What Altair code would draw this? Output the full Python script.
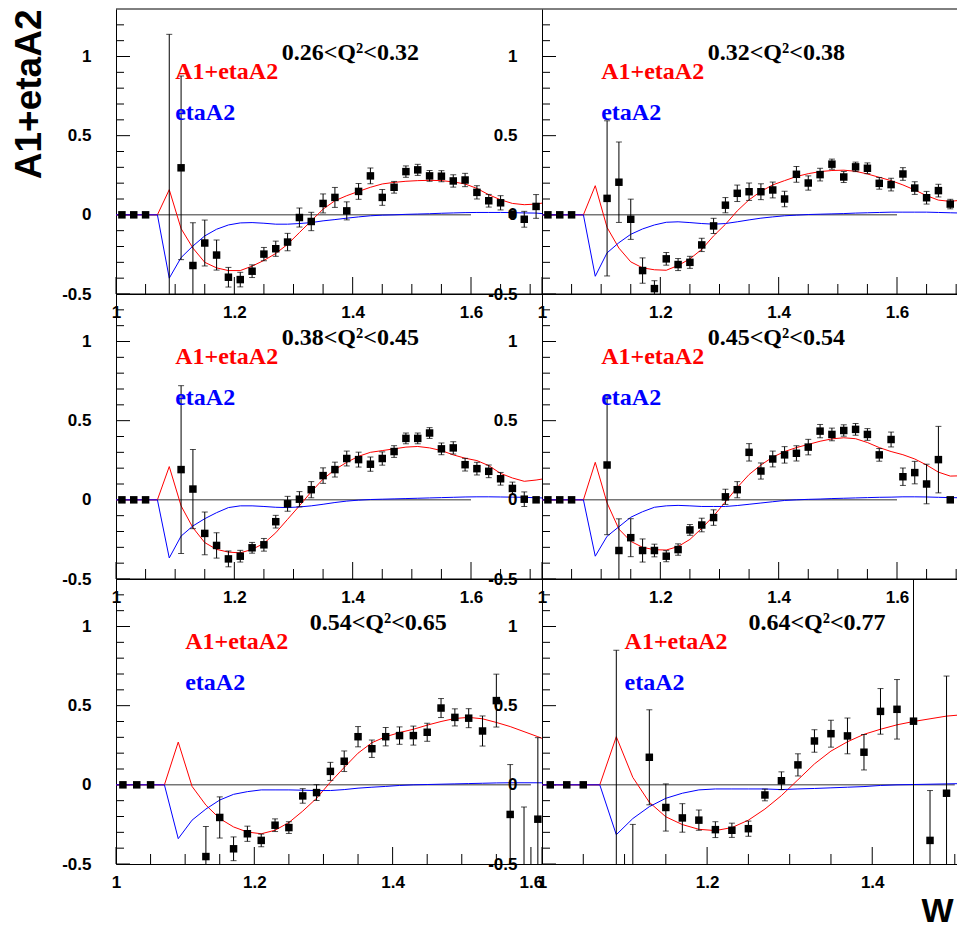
import altair as alt
import pandas as pd

# ---------------- panel settings ----------------
PANEL_TITLES = ["0.26<Q²<0.32", "0.32<Q²<0.38", "0.38<Q²<0.45",
                "0.45<Q²<0.54", "0.54<Q²<0.65", "0.64<Q²<0.77"]
X_MAX = [1.72, 1.72, 1.72, 1.72, 1.616, 1.516]
ZERO_LINE_END = [1.6, 1.6, 1.6, 1.6, 1.6, 1.5]
Q_LABEL_X = [1.28, 1.28, 1.28, 1.28, 1.28, 1.25]
Q_LABEL_Y = 0.98
LEG_X = 1.10
LEG_RED_Y = 0.86
LEG_BLUE_Y = 0.60
Y_MIN, Y_MAX = -0.5, 1.3

X_LABEL_VALUES = [1.0, 1.2, 1.4, 1.6]
Y_LABEL_VALUES = [-0.5, 0.0, 0.5, 1.0]
X_MINOR = [1.05, 1.1, 1.15, 1.25, 1.3, 1.35, 1.45, 1.5, 1.55, 1.65, 1.7]
Y_MINOR = [-0.4, -0.3, -0.2, -0.1, 0.1, 0.2, 0.3, 0.4, 0.6, 0.7, 0.8, 0.9, 1.1, 1.2]

# ---------------- data points ----------------
W_PTS = [1.01, 1.03, 1.05, 1.09, 1.11, 1.13, 1.15, 1.17, 1.19, 1.21, 1.23, 1.25,
         1.27, 1.29, 1.31, 1.33, 1.35, 1.37, 1.39, 1.41, 1.43, 1.45, 1.47, 1.49,
         1.51, 1.53, 1.55, 1.57, 1.59, 1.61, 1.63, 1.65, 1.67, 1.69, 1.71]

P1_Y = [0, 0, 0, -0.6, 0.297, -0.32, -0.178, -0.254, -0.394, -0.409, -0.356, -0.248,
        -0.214, -0.172, -0.017, -0.042, 0.072, 0.110, 0.025, 0.148, 0.246, 0.110, 0.174,
        0.273, 0.284, 0.246, 0.244, 0.214, 0.220, 0.142, 0.089, 0.076, 0.004, -0.028, 0.053]
P1_E = [0, 0, 0, 1.74, 0.58, 0.27, 0.145, 0.095, 0.062, 0.046, 0.04, 0.042, 0.048, 0.055,
        0.06, 0.058, 0.06, 0.063, 0.057, 0.05, 0.05, 0.05, 0.037, 0.036, 0.035, 0.034,
        0.035, 0.039, 0.042, 0.042, 0.04, 0.045, 0.02, 0.05, 0.075]

P2_Y = [0, 0, 0, None, 0.104, 0.206, -0.028, -0.352, -0.466, -0.278, -0.314, -0.30, -0.19,
        -0.07, 0.061, 0.136, 0.146, 0.146, 0.157, 0.10, 0.256, 0.201, 0.254, 0.32, 0.239,
        0.303, 0.294, 0.199, 0.191, 0.258, 0.169, 0.108, 0.153, 0.068, -0.013]
P2_E = [0, 0, 0, None, 0.49, 0.254, 0.127, 0.08, 0.05, 0.04, 0.038, 0.038, 0.042, 0.048,
        0.048, 0.052, 0.055, 0.05, 0.05, 0.049, 0.05, 0.045, 0.04, 0.032, 0.035, 0.03,
        0.034, 0.037, 0.04, 0.04, 0.04, 0.04, 0.04, 0.03, 0.042]

P3_Y = [0, 0, 0, None, 0.191, 0.068, -0.212, -0.288, -0.373, -0.356, -0.303, -0.284,
        -0.138, -0.025, 0.004, 0.064, 0.153, 0.191, 0.261, 0.254, 0.225, 0.261, 0.305,
        0.388, 0.388, 0.422, 0.322, 0.328, 0.222, 0.197, 0.18, 0.133, 0.072, 0.004, 0.0]
P3_E = [0, 0, 0, None, 0.53, 0.25, 0.135, 0.08, 0.05, 0.037, 0.034, 0.04, 0.04, 0.047,
        0.048, 0.051, 0.049, 0.047, 0.047, 0.047, 0.045, 0.042, 0.037, 0.034, 0.034, 0.034,
        0.037, 0.039, 0.04, 0.04, 0.04, 0.04, 0.04, 0.046, 0.0]

P4_Y = [0, 0, 0, None, 0.22, -0.32, -0.239, -0.32, -0.32, -0.356, -0.314, -0.19, -0.159,
        -0.112, 0.019, 0.064, 0.30, 0.182, 0.258, 0.284, 0.294, 0.333, 0.434, 0.413, 0.438,
        0.445, 0.413, 0.284, 0.381, 0.146, 0.172, 0.10, 0.254, 0.0, 0.0]
P4_E = [0, 0, 0, None, 0.44, 0.2, 0.12, 0.073, 0.04, 0.035, 0.036, 0.034, 0.043, 0.049,
        0.048, 0.051, 0.055, 0.051, 0.05, 0.052, 0.048, 0.049, 0.042, 0.04, 0.036, 0.037,
        0.037, 0.04, 0.047, 0.055, 0.071, 0.125, 0.21, 0.0, 0.0]

P5_Y = [0, 0, 0, None, None, -0.453, -0.206, -0.404, -0.309, -0.351, -0.255, -0.27, -0.07,
        -0.049, 0.085, 0.149, 0.304, 0.228, 0.304, 0.311, 0.311, 0.332, 0.485, 0.426, 0.421,
        0.34, 0.532, -0.187, -0.65, -0.217, None, None, None, None, None]
P5_E = [0, 0, 0, None, None, 0.19, 0.13, 0.075, 0.048, 0.04, 0.04, 0.037, 0.046, 0.05,
        0.057, 0.065, 0.064, 0.055, 0.058, 0.055, 0.06, 0.057, 0.06, 0.054, 0.06, 0.095,
        0.167, 0.315, 0.51, 0.515, None, None, None, None, None]

P6_Y = [0, 0, 0, -0.6, -0.7, 0.174, -0.143, -0.209, -0.223, -0.283, -0.287, -0.277, -0.064,
        0.026, 0.126, 0.277, 0.323, 0.309, 0.206, 0.464, 0.477, 0.402, -0.351, -0.053, -0.8,
        None, None, None, None, None, None, None, None, None, None]
P6_E = [0, 0, 0, 1.45, 0.45, 0.3, 0.149, 0.09, 0.064, 0.05, 0.045, 0.048, 0.037, 0.056,
        0.07, 0.071, 0.085, 0.113, 0.112, 0.144, 0.188, 1.5, 0.315, 0.74, 2.5,
        None, None, None, None, None, None, None, None, None, None]

# ---------------- model curves ----------------
W_CURVE = [1.00, 1.07, 1.09, 1.11, 1.13, 1.15, 1.17, 1.19, 1.21, 1.23, 1.25, 1.27, 1.29,
           1.31, 1.33, 1.35, 1.37, 1.39, 1.41, 1.43, 1.45, 1.47, 1.49, 1.51, 1.53, 1.55,
           1.57, 1.59, 1.61, 1.63, 1.65, 1.67, 1.69, 1.71, 1.72]

P1_RED = [0, 0, 0.159, -0.087, -0.21, -0.30, -0.335, -0.352, -0.352, -0.324, -0.288, -0.244,
          -0.186, -0.112, -0.038, 0.036, 0.089, 0.121, 0.148, 0.174, 0.195, 0.205, 0.212,
          0.216, 0.218, 0.216, 0.208, 0.195, 0.167, 0.127, 0.095, 0.072, 0.064, 0.068, 0.074]
P1_BLUE = [0, 0, -0.40, -0.27, -0.197, -0.133, -0.091, -0.064, -0.051, -0.049, -0.053, -0.059,
           -0.059, -0.055, -0.049, -0.038, -0.03, -0.021, -0.013, -0.006, -0.002, 0.0, 0.003,
           0.005, 0.007, 0.01, 0.012, 0.014, 0.015, 0.015, 0.015, 0.014, 0.012, 0.011, 0.008]

P2_RED = [0, 0, 0.184, -0.08, -0.21, -0.297, -0.335, -0.347, -0.35, -0.32, -0.278, -0.218,
          -0.133, -0.06, 0.025, 0.095, 0.148, 0.189, 0.216, 0.242, 0.26, 0.273, 0.28, 0.282,
          0.275, 0.258, 0.237, 0.216, 0.189, 0.157, 0.121, 0.093, 0.085, 0.093, 0.097]
P2_BLUE = [0, 0, -0.388, -0.24, -0.176, -0.123, -0.089, -0.064, -0.047, -0.044, -0.049, -0.055,
           -0.059, -0.055, -0.044, -0.032, -0.021, -0.013, -0.006, -0.002, 0.002, 0.004, 0.006,
           0.008, 0.011, 0.013, 0.015, 0.017, 0.017, 0.017, 0.017, 0.015, 0.013, 0.011, 0.008]

P3_RED = [0, 0, 0.21, -0.038, -0.176, -0.27, -0.313, -0.33, -0.335, -0.313, -0.275, -0.208,
          -0.123, -0.038, 0.051, 0.131, 0.191, 0.237, 0.275, 0.30, 0.311, 0.322, 0.333, 0.337,
          0.328, 0.311, 0.284, 0.263, 0.248, 0.216, 0.167, 0.138, 0.117, 0.125, 0.131]
P3_BLUE = [0, 0, -0.367, -0.229, -0.165, -0.119, -0.081, -0.049, -0.038, -0.038, -0.042, -0.047,
           -0.049, -0.045, -0.038, -0.028, -0.017, -0.008, -0.002, 0.002, 0.004, 0.006, 0.008,
           0.010, 0.012, 0.014, 0.016, 0.018, 0.019, 0.019, 0.018, 0.017, 0.016, 0.013, 0.012]

P4_RED = [0, 0, 0.237, -0.02, -0.185, -0.262, -0.30, -0.315, -0.317, -0.295, -0.25, -0.18,
          -0.102, -0.013, 0.078, 0.16, 0.22, 0.27, 0.305, 0.33, 0.35, 0.37, 0.385, 0.392,
          0.386, 0.362, 0.33, 0.305, 0.285, 0.258, 0.22, 0.175, 0.15, 0.152, 0.157]
P4_BLUE = [0, 0, -0.356, -0.23, -0.17, -0.11, -0.075, -0.047, -0.038, -0.035, -0.038, -0.042,
           -0.042, -0.042, -0.036, -0.028, -0.02, -0.012, -0.004, 0.0, 0.003, 0.005, 0.008,
           0.010, 0.012, 0.014, 0.016, 0.017, 0.019, 0.019, 0.018, 0.016, 0.014, 0.013, 0.012]

P5_RED = [0, 0, 0.27, -0.01, -0.128, -0.213, -0.266, -0.298, -0.309, -0.287, -0.238, -0.166,
          -0.085, 0.017, 0.11, 0.2, 0.266, 0.304, 0.33, 0.351, 0.377, 0.40, 0.419, 0.426,
          0.417, 0.394, 0.368, 0.336, 0.304, 0.27]
P5_BLUE = [0, 0, -0.34, -0.223, -0.153, -0.096, -0.06, -0.043, -0.032, -0.032, -0.032, -0.034,
           -0.036, -0.036, -0.03, -0.021, -0.015, -0.01, -0.004, 0.0, 0.002, 0.004, 0.006,
           0.008, 0.01, 0.012, 0.013, 0.013, 0.013, 0.012]

P6_RED = [0, 0, 0.304, 0.047, -0.11, -0.202, -0.251, -0.281, -0.289, -0.27, -0.223, -0.153,
          -0.068, 0.032, 0.132, 0.213, 0.272, 0.319, 0.351, 0.379, 0.40, 0.417, 0.434, 0.443,
          0.446]
P6_BLUE = [0, 0, -0.315, -0.213, -0.138, -0.085, -0.053, -0.032, -0.026, -0.026, -0.026,
           -0.026, -0.03, -0.026, -0.023, -0.019, -0.015, -0.011, -0.004, 0.0, 0.002, 0.004,
           0.006, 0.008, 0.009]

PTS_Y = [P1_Y, P2_Y, P3_Y, P4_Y, P5_Y, P6_Y]
PTS_E = [P1_E, P2_E, P3_E, P4_E, P5_E, P6_E]
RED = [P1_RED, P2_RED, P3_RED, P4_RED, P5_RED, P6_RED]
BLUE = [P1_BLUE, P2_BLUE, P3_BLUE, P4_BLUE, P5_BLUE, P6_BLUE]

PANEL_W = 426
PANEL_H = 285
SANS = "Liberation Sans"
SERIF = "Liberation Serif"


def make_panel(i):
    xmax = X_MAX[i]
    xs = alt.Scale(domain=[1.0, xmax], nice=False, zero=False)
    ys = alt.Scale(domain=[Y_MIN, Y_MAX], nice=False, zero=False)

    x_kw = dict(values=[v for v in X_LABEL_VALUES if v <= xmax + 1e-9],
                labelExpr="'' + datum.value", labelPadding=10)
    if i == 5:
        x_kw.update(title="W", titleX=PANEL_W - 15, titleY=57, titleAlign="right",
                    titleBaseline="alphabetic", titleFont=SANS, titleFontSize=34,
                    titleFontWeight="bold", titleColor="black")
    else:
        x_kw.update(title=None)
    y_kw = dict(values=Y_LABEL_VALUES, labelExpr="'' + datum.value", labelPadding=25)
    if i == 0:
        y_kw.update(title="A1+etaA2", titleAnchor="end", titleFont=SANS, titleFontSize=37,
                    titleFontWeight="bold", titlePadding=13, titleColor="black")
    else:
        y_kw.update(title=None)
    xa = alt.Axis(**x_kw)
    ya = alt.Axis(**y_kw)

    def X(field):
        return alt.X(field, type="quantitative", scale=xs, axis=xa)

    def Y(field):
        return alt.Y(field, type="quantitative", scale=ys, axis=ya)

    # frame top
    top_df = pd.DataFrame({"x": [1.0], "x2": [xmax], "y": [Y_MAX]})
    frame = alt.Chart(top_df).mark_rule(color="black", strokeWidth=1).encode(
        x=X("x"), x2="x2:Q", y=Y("y"))

    zero_df = pd.DataFrame({"x": [1.0], "x2": [ZERO_LINE_END[i]], "y": [0.0]})
    zero = alt.Chart(zero_df).mark_rule(color="#333333", strokeWidth=1).encode(
        x=X("x"), x2="x2:Q", y=Y("y"))

    red_vals = RED[i]
    blue_vals = BLUE[i]
    cdf_r = pd.DataFrame({"w": W_CURVE[:len(red_vals)], "v": red_vals})
    cdf_b = pd.DataFrame({"w": W_CURVE[:len(blue_vals)], "v": blue_vals})
    red = alt.Chart(cdf_r).mark_line(color="#ff0000", strokeWidth=1, clip=True).encode(
        x=X("w"), y=Y("v"))
    blue = alt.Chart(cdf_b).mark_line(color="#0000ff", strokeWidth=1, clip=True).encode(
        x=X("w"), y=Y("v"))

    rows = []
    for w, y, e in zip(W_PTS, PTS_Y[i], PTS_E[i]):
        if y is None:
            continue
        rows.append({"w": w, "y": y, "lo": y - e, "hi": y + e, "e": e})
    pdf = pd.DataFrame(rows)
    edf = pdf[pdf["e"] > 0]

    bars = alt.Chart(edf).mark_rule(color="black", strokeWidth=1, clip=True).encode(
        x=X("w"), y=Y("lo"), y2="hi:Q")
    cap_lo = alt.Chart(edf).mark_tick(color="black", orient="horizontal", size=6,
                                      thickness=1, clip=True).encode(x=X("w"), y=Y("lo"))
    cap_hi = alt.Chart(edf).mark_tick(color="black", orient="horizontal", size=6,
                                      thickness=1, clip=True).encode(x=X("w"), y=Y("hi"))
    pts = alt.Chart(pdf).mark_square(color="black", size=56, opacity=1, clip=True).encode(
        x=X("w"), y=Y("y"))

    qdf = pd.DataFrame({"x": [Q_LABEL_X[i]], "y": [Q_LABEL_Y], "t": [PANEL_TITLES[i]]})
    qtext = alt.Chart(qdf).mark_text(align="left", baseline="alphabetic", font=SERIF,
                                     fontWeight="bold", fontSize=24, color="black").encode(
        x=X("x"), y=Y("y"), text="t:N")
    ldf = pd.DataFrame({
        "x": [LEG_X, LEG_X],
        "y": [LEG_RED_Y, LEG_BLUE_Y],
        "t": ["A1+etaA2", "etaA2"],
        "c": ["#ff0000", "#0000ff"],
    })
    ltext = alt.Chart(ldf).mark_text(align="left", baseline="alphabetic", font=SERIF,
                                     fontWeight="bold", fontSize=24).encode(
        x=X("x"), y=Y("y"), text="t:N", color=alt.Color("c:N", scale=None))

    ymaj = alt.Chart(pd.DataFrame({"y": Y_LABEL_VALUES})).mark_rule(
        color="black", strokeWidth=1).encode(y=Y("y"), x=alt.value(0), x2=alt.value(14))
    ymin = alt.Chart(pd.DataFrame({"y": Y_MINOR})).mark_rule(
        color="black", strokeWidth=1).encode(y=Y("y"), x=alt.value(0), x2=alt.value(8))
    xmaj = alt.Chart(pd.DataFrame({"x": [v for v in X_LABEL_VALUES if v <= xmax]})).mark_rule(
        color="black", strokeWidth=1).encode(
        x=X("x"), y=alt.value(PANEL_H), y2=alt.value(PANEL_H - 17))
    xmin = alt.Chart(pd.DataFrame({"x": [v for v in X_MINOR if v <= xmax]})).mark_rule(
        color="black", strokeWidth=1).encode(
        x=X("x"), y=alt.value(PANEL_H), y2=alt.value(PANEL_H - 10))

    return alt.layer(frame, ymaj, ymin, xmaj, xmin, zero, red, blue, bars, cap_lo, cap_hi,
                     pts, qtext, ltext).properties(width=PANEL_W, height=PANEL_H)


panels = [make_panel(i) for i in range(6)]
chart = alt.concat(*panels, columns=2, spacing=0, bounds="flush").properties(
    padding={"left": 2, "top": 0, "right": -12, "bottom": -5}
).configure_view(stroke="transparent").configure_axis(
    labelFont=SANS, labelFontWeight="bold", labelFontSize=17, labelColor="black",
    ticks=False, grid=False, domainColor="black", domainWidth=1,
    labelFlush=False, labelOverlap=False,
)

chart.save("out.html", embed_options={"renderer": "svg", "actions": False})
